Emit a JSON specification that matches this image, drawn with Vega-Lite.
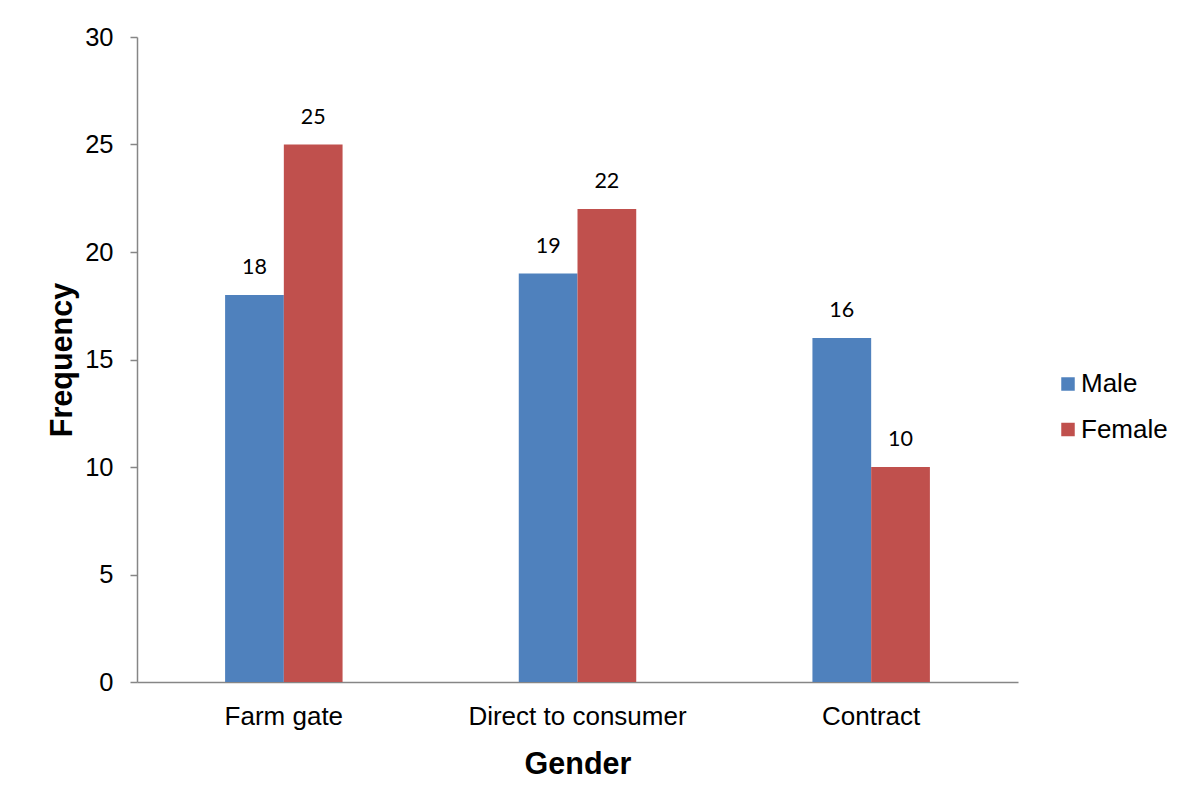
{
  "$schema": "https://vega.github.io/schema/vega-lite/v6.json",
  "autosize": {"type": "none"},
  "width": 881,
  "height": 645,
  "padding": {"left": 137, "top": 37, "right": 169, "bottom": 117},
  "background": "white",
  "data": {
    "values": [
      {"channel": "Farm gate", "gender": "Male", "frequency": 18},
      {"channel": "Farm gate", "gender": "Female", "frequency": 25},
      {"channel": "Direct to consumer", "gender": "Male", "frequency": 19},
      {"channel": "Direct to consumer", "gender": "Female", "frequency": 22},
      {"channel": "Contract", "gender": "Male", "frequency": 16},
      {"channel": "Contract", "gender": "Female", "frequency": 10}
    ]
  },
  "encoding": {
    "x": {
      "field": "channel",
      "type": "nominal",
      "sort": ["Farm gate", "Direct to consumer", "Contract"],
      "scale": {"paddingInner": 0.6, "paddingOuter": 0.3},
      "axis": {
        "title": "Gender",
        "labelAngle": 0,
        "labelFont": "Liberation Sans",
        "labelFontSize": 26,
        "labelColor": "black",
        "labelPadding": 21,
        "labelLimit": 0,
        "ticks": false,
        "domainColor": "#868686",
        "domainWidth": 1.5,
        "titleFont": "Liberation Sans",
        "titleFontSize": 30.5,
        "titleFontWeight": "bold",
        "titleColor": "black",
        "titlePadding": 20
      }
    },
    "xOffset": {"field": "gender", "type": "nominal", "sort": ["Male", "Female"], "scale": {"paddingInner": 0}},
    "y": {
      "field": "frequency",
      "type": "quantitative",
      "scale": {"domain": [0, 30]},
      "axis": {
        "title": "Frequency",
        "values": [0, 5, 10, 15, 20, 25, 30],
        "grid": false,
        "labelFont": "Liberation Sans",
        "labelFontSize": 25.5,
        "labelColor": "black",
        "labelPadding": 17,
        "tickSize": 7,
        "tickColor": "#868686",
        "tickWidth": 1.5,
        "domainColor": "#868686",
        "domainWidth": 1.5,
        "titleFont": "Liberation Sans",
        "titleFontSize": 30.5,
        "titleFontWeight": "bold",
        "titleColor": "black",
        "titlePadding": 7
      }
    }
  },
  "layer": [
    {
      "mark": {"type": "bar"},
      "encoding": {
        "color": {
          "field": "gender",
          "type": "nominal",
          "sort": ["Male", "Female"],
          "scale": {"domain": ["Male", "Female"], "range": ["#4F81BD", "#C0504D"]},
          "legend": {
            "title": null,
            "orient": "none",
            "legendX": 918,
            "legendY": 334,
            "symbolType": "square",
            "symbolSize": 182,
            "symbolStrokeWidth": 0,
            "labelFont": "Liberation Sans",
            "labelFontSize": 26,
            "labelColor": "black",
            "labelOffset": 0,
            "rowPadding": 19.5
          }
        }
      }
    },
    {
      "mark": {"type": "text", "baseline": "alphabetic", "dy": -21, "font": "Lato", "fontSize": 21.5, "color": "black"},
      "encoding": {
        "text": {"field": "frequency", "type": "quantitative"}
      }
    }
  ],
  "config": {"view": {"stroke": null}}
}
